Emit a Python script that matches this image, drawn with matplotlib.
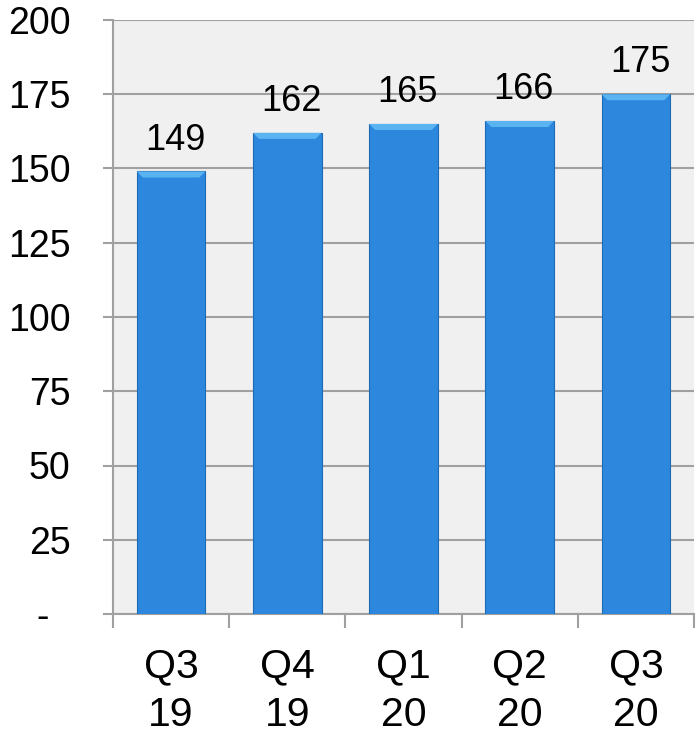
import matplotlib
matplotlib.use("Agg")
import matplotlib.pyplot as plt
from matplotlib.patches import Polygon
from matplotlib.transforms import ScaledTranslation
import numpy as np

categories = ["Q3\n19", "Q4\n19", "Q1\n20", "Q2\n20", "Q3\n20"]
values = [149, 162, 165, 166, 175]
yticks = [0, 25, 50, 75, 100, 125, 150, 175, 200]
ytick_labels = ["-", "25", "50", "75", "100", "125", "150", "175", "200"]

plt.rcParams['font.family'] = ['Liberation Sans', 'DejaVu Sans']

fig = plt.figure(figsize=(6.98, 7.35), dpi=100)
ax = fig.add_axes([113/698, 1-614/735, (694-113)/698, (614-20)/735])
ax.set_facecolor('#F0F0F0')

x = np.arange(len(categories))
bars = ax.bar(x, values, width=0.59, color='#2C87DD', edgecolor='#1E6BB5',
              linewidth=0.8, zorder=3)

ax.set_xlim(-0.5, len(categories) - 0.5)
ax.set_ylim(0, 200)

# bevel highlight on top of bars
fig.canvas.draw()
inv = ax.transData.inverted()
for b in bars:
    x0, y0 = b.get_x(), b.get_y()
    w, h = b.get_width(), b.get_height()
    (px0, py1) = ax.transData.transform((x0, y0 + h))
    (px1, _) = ax.transData.transform((x0 + w, y0 + h))
    d = 6
    pts_px = [(px0, py1), (px1, py1), (px1 - d, py1 - d), (px0 + d, py1 - d)]
    pts = inv.transform(pts_px)
    ax.add_patch(Polygon(pts, closed=True, facecolor='#5BB4F2', edgecolor='none', zorder=4))
    ax.annotate(str(h), (x0 + w/2, y0 + h), xytext=(3, 10), textcoords='offset points',
                ha='center', va='bottom', fontsize=26, color='black')

ax.set_yticks(yticks)
ax.set_yticklabels(ytick_labels)
ax.yaxis.grid(True, color='#A0A0A0', linewidth=1.5, zorder=0)
ax.set_axisbelow(True)

ax.set_xticks(x)
ax.set_xticklabels(categories, fontsize=29.5, linespacing=1.35)
ax.set_xticks(np.arange(-0.5, len(categories)), minor=True)
ax.tick_params(axis='x', which='major', length=0, pad=24)
ax.tick_params(axis='x', which='minor', length=10, width=1.5, color='#A0A0A0', direction='out')
ax.tick_params(axis='y', length=7.5, width=1.5, color='#A0A0A0', direction='out', labelsize=27, pad=23)

# shift the zero dash label left like an accounting format
zero_lbl = ax.get_yticklabels()[0]
zero_lbl.set_transform(zero_lbl.get_transform() + ScaledTranslation(-0.22, 0, fig.dpi_scale_trans))

for s in ['top', 'right']:
    ax.spines[s].set_visible(False)
for s in ['left', 'bottom']:
    ax.spines[s].set_color('#A0A0A0')
    ax.spines[s].set_linewidth(1.5)

fig.savefig('out.png', dpi=100, facecolor='white')
